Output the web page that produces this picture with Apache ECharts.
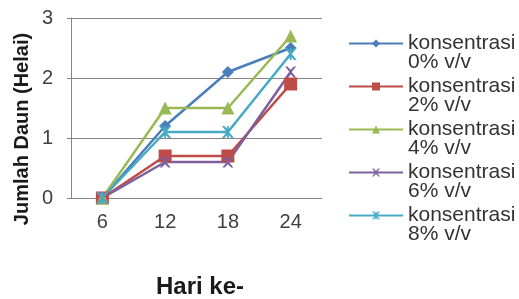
<!DOCTYPE html>
<html>
<head>
<meta charset="utf-8">
<script src="https://cdn.jsdelivr.net/npm/echarts@6/dist/echarts.min.js"></script>
<style>
    html, body { margin: 0; padding: 0; background: #fff; }
    #chart { width: 519px; height: 299px; }
</style>
</head>
<body>
<div id="chart"></div>
<script>
var days = ['6', '12', '18', '24'];
var seriesNames = ['konsentrasi\n0% v/v', 'konsentrasi\n2% v/v', 'konsentrasi\n4% v/v', 'konsentrasi\n6% v/v', 'konsentrasi\n8% v/v'];
var conc0 = [0, 1.2, 2.1, 2.5];
var conc2 = [0, 0.7, 0.7, 1.9];
var conc4 = [0, 1.5, 1.5, 2.7];
var conc6 = [0, 0.6, 0.6, 2.1];
var conc8 = [0, 1.1, 1.1, 2.4];
var yTicks = [0, 1, 2, 3];

var colors = ['#4a7ebb', '#be4b48', '#98b954', '#7d60a0', '#46aac5'];
var crossPath = 'path://M0,0L2,0L5,3L8,0L10,0L6,5L10,10L8,10L5,7L2,10L0,10L4,5Z';
var starPath = 'path://M0,0L2,0L5,3L8,0L10,0L6,5L10,10L8,10L5,7L2,10L0,10L4,5Z M4.3,0L5.7,0L5.7,10L4.3,10Z';
var symbols = ['diamond', 'rect', 'triangle', crossPath, starPath];
var sizes = [12, 13, 13, 11, 12];
var allData = [conc0, conc2, conc4, conc6, conc8];

var chart = echarts.init(document.getElementById('chart'));

var series = [];
for (var i = 0; i < allData.length; i++) {
    series.push({
        name: seriesNames[i],
        type: 'line',
        data: allData[i],
        symbol: symbols[i],
        symbolSize: sizes[i],
        showAllSymbol: true,
        itemStyle: { color: colors[i] },
        lineStyle: { width: 2.5, color: colors[i] }
    });
}

var option = {
    animation: false,
    textStyle: { fontFamily: 'Liberation Sans, Arial, sans-serif' },
    grid: { left: 71, right: 197, top: 18, bottom: 101 },
    legend: {
        orient: 'vertical',
        left: 343,
        top: 9,
        itemWidth: 54,
        itemHeight: 10,
        itemGap: -16,
        // empty first line so that the icon sits beside "konsentrasi"
        formatter: function (name) {
            return '\n' + name;
        },
        textStyle: {
            fontSize: 21,
            lineHeight: 19,
            color: '#333'
        },
        data: seriesNames
    },
    xAxis: {
        type: 'category',
        data: days,
        boundaryGap: true,
        axisLine: { lineStyle: { color: '#868686', width: 1 } },
        axisTick: { show: false },
        axisLabel: { fontSize: 20, color: '#404040', margin: 14 }
    },
    yAxis: {
        type: 'value',
        min: yTicks[0],
        max: yTicks[yTicks.length - 1],
        interval: 1,
        axisLine: { show: true, lineStyle: { color: '#868686', width: 1 } },
        axisTick: { show: true, length: 4, lineStyle: { color: '#868686' } },
        splitLine: { lineStyle: { color: '#868686', width: 1 } },
        axisLabel: { fontSize: 20, color: '#404040', margin: 18 }
    },
    graphic: [
        {
            type: 'text',
            x: 22,
            y: 129,
            rotation: Math.PI / 2,
            style: {
                text: 'Jumlah Daun (Helai)',
                font: 'bold 20px Liberation Sans, Arial, sans-serif',
                fill: '#1a1a1a',
                align: 'center',
                verticalAlign: 'middle'
            }
        },
        {
            type: 'text',
            x: 200,
            y: 287,
            style: {
                text: 'Hari ke-',
                font: 'bold 24px Liberation Sans, Arial, sans-serif',
                fill: '#1a1a1a',
                align: 'center',
                verticalAlign: 'middle'
            }
        }
    ],
    series: series
};

chart.setOption(option);
</script>
</body>
</html>
